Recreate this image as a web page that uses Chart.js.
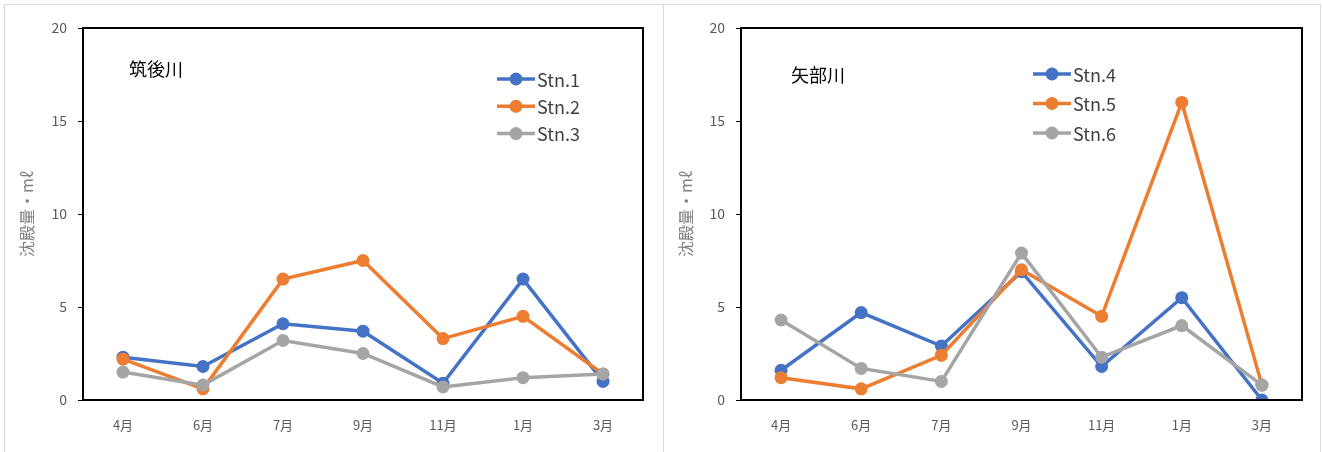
<!DOCTYPE html>
<html>
<head>
<meta charset="utf-8">
<script src="https://cdn.jsdelivr.net/npm/chart.js@4/dist/chart.umd.min.js"></script>
<style>
  body { margin: 0; background: #fff; }
  .panel { position: absolute; top: 4px; height: 448px; border-top: 1px solid #d9d9d9; border-left: 1px solid #d9d9d9; }
  #p1 { left: 4px; width: 659px; }
  #p2 { left: 663px; width: 656px; border-right: 1px solid #d9d9d9; }
  canvas { position: absolute; top: 0; left: 0; }
</style>
</head>
<body>
<div class="panel" id="p1"><canvas id="c1" width="658" height="447"></canvas></div>
<div class="panel" id="p2"><canvas id="c2" width="656" height="447"></canvas></div>
<script>
// 月ごとの沈殿量
const months = ["4月", "6月", "7月", "9月", "11月", "1月", "3月"];
const yTicks = [0, 5, 10, 15, 20];

// 筑後川
const stn1 = [2.3, 1.8, 4.1, 3.7, 0.9, 6.5, 1.0];
const stn2 = [2.2, 0.6, 6.5, 7.5, 3.3, 4.5, 1.4];
const stn3 = [1.5, 0.8, 3.2, 2.5, 0.7, 1.2, 1.4];

// 矢部川
const stn4 = [1.6, 4.7, 2.9, 6.9, 1.8, 5.5, 0.0];
const stn5 = [1.2, 0.6, 2.4, 7.0, 4.5, 16.0, 0.8];
const stn6 = [4.3, 1.7, 1.0, 7.9, 2.3, 4.0, 0.8];

const colors = ["#4472C4", "#ED7D31", "#A5A5A5"];
const FONT = "'Noto Sans CJK JP', 'Noto Sans', sans-serif";

// 枠線
const framePlugin = {
  id: "frame",
  afterDatasetsDraw(chart) {
    const { ctx, chartArea: a } = chart;
    ctx.save();
    ctx.strokeStyle = "#000";
    ctx.lineWidth = 2;
    ctx.strokeRect(a.left, a.top, a.right - a.left, a.bottom - a.top);
    ctx.restore();
  }
};

// グラフ内の凡例と河川名
const innerLegend = {
  id: "innerLegend",
  afterDraw(chart, args, opts) {
    const { ctx } = chart;
    ctx.save();
    ctx.fillStyle = "#000";
    ctx.font = "18px " + FONT;
    ctx.textBaseline = "middle";
    ctx.textAlign = "left";
    ctx.fillText(opts.title, opts.titleX, opts.titleY);
    chart.data.datasets.forEach((ds, i) => {
      const y = opts.y + i * opts.gap;
      ctx.strokeStyle = ds.borderColor;
      ctx.lineWidth = 3.5;
      ctx.beginPath();
      ctx.moveTo(opts.x, y);
      ctx.lineTo(opts.x + 38, y);
      ctx.stroke();
      ctx.fillStyle = ds.backgroundColor;
      ctx.beginPath();
      ctx.arc(opts.x + 19, y, 6.5, 0, Math.PI * 2);
      ctx.fill();
      ctx.fillStyle = "#404040";
      ctx.font = "18px " + FONT;
      ctx.fillText(ds.label, opts.x + 40, y + 1);
    });
    ctx.restore();
  }
};

function makeChart(id, labels, series, yWidth, padRight, legendOpts) {
  new Chart(document.getElementById(id), {
    type: "line",
    data: {
      labels: months,
      datasets: series.map((d, i) => ({
        label: labels[i],
        data: d,
        borderColor: colors[i],
        backgroundColor: colors[i],
        borderWidth: 3.5,
        pointRadius: 6.5,
        pointBorderWidth: 0,
        tension: 0,
        order: series.length - i
      }))
    },
    options: {
      responsive: false,
      animation: false,
      layout: { padding: { top: 23, right: padRight, left: 0, bottom: 0 } },
      plugins: {
        legend: { display: false },
        tooltip: { enabled: false },
        innerLegend: legendOpts
      },
      scales: {
        x: {
          offset: true,
          grid: { display: false, drawTicks: false },
          border: { display: false },
          ticks: { color: "#595959", font: { family: FONT, size: 13 }, padding: 17 },
          afterFit(s) { s.height = 52; }
        },
        y: {
          min: 0,
          max: 20,
          afterBuildTicks(s) { s.ticks = yTicks.map(v => ({ value: v })); },
          grid: { drawOnChartArea: false, tickLength: 5, color: "#000", lineWidth: 1 },
          border: { display: false },
          ticks: { color: "#595959", font: { family: FONT, size: 14 }, padding: 11 },
          title: {
            display: true,
            text: "沈殿量・mℓ",
            color: "#808080",
            font: { family: FONT, size: 16 },
            padding: { top: 12, bottom: 0 }
          },
          afterFit(s) { s.width = yWidth; }
        }
      }
    },
    plugins: [framePlugin, innerLegend]
  });
}

makeChart("c1", ["Stn.1", "Stn.2", "Stn.3"], [stn1, stn2, stn3], 78, 20,
  { title: "筑後川", titleX: 124, titleY: 64, x: 492, y: 74, gap: 27.3 });
makeChart("c2", ["Stn.4", "Stn.5", "Stn.6"], [stn4, stn5, stn6], 77, 18,
  { title: "矢部川", titleX: 127, titleY: 70, x: 369, y: 69, gap: 29.5 });
</script>
</body>
</html>
